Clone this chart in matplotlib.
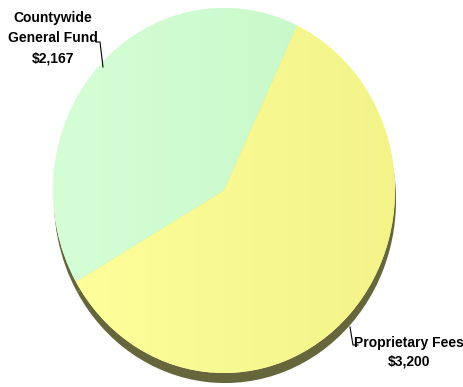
import matplotlib
matplotlib.use("Agg")
import matplotlib.pyplot as plt
import matplotlib.colors as mcolors
import numpy as np

# data
labels = [["Countywide", "General Fund"], ["Proprietary Fees"]]
values = [2167, 3200]
value_labels = ["$2,167", "$3,200"]

# face colours: lighter on the left, a bit deeper on the right
face_left = ["#d6fed6", "#ffff9c"]
face_right = ["#c4f7c6", "#f3f38a"]
rim_color = "#66663c"

W, H = 464, 387
fig = plt.figure(figsize=(W / 100, H / 100), dpi=100)
ax = fig.add_axes([0, 0, 1, 1])

# pie face in pixel space: centre (224, 190.5), rx 171, ry 182.5
cx, cy, rx, ry = 224, 190.5, 171, 182.5

font = ["Liberation Sans", "DejaVu Sans"]

# shadow / depth underneath
shadow, _ = ax.pie(values, colors=[rim_color, rim_color], startangle=64.7,
                   counterclock=True, radius=1.0, center=(0.006, -0.055),
                   wedgeprops=dict(linewidth=0), frame=True)
for w in shadow:
    w.set_zorder(1)

wedges, _ = ax.pie(values, colors=face_left, startangle=64.7,
                   counterclock=True, radius=1.0, center=(0, 0),
                   wedgeprops=dict(linewidth=0), frame=True)

# horizontal gradient clipped to each wedge
grad = np.linspace(0, 1, 256).reshape(1, -1)
for w, c0, c1 in zip(wedges, face_left, face_right):
    w.set_zorder(2)
    cmap = mcolors.LinearSegmentedColormap.from_list("g", [c0, c1])
    im = ax.imshow(grad, cmap=cmap, extent=(-1.0, 1.0, -1.0, 1.0),
                   aspect="auto", zorder=3, interpolation="bilinear")
    im.set_clip_path(w)

ax.set_xlim((0 - cx) / rx, (W - cx) / rx)
ax.set_ylim((cy - H) / ry, cy / ry)
ax.set_aspect("auto")
ax.axis("off")


def px(x, y):
    return x / W, 1 - y / H


def label(x, y, s):
    fig.text(*px(x, y), s, ha="center", va="center", fontsize=10,
             fontweight="bold", family=font)


# left label + leader
label(53, 18, labels[0][0])
label(52.5, 38.5, labels[0][1])
label(53.5, 58.5, value_labels[0])
fig.add_artist(plt.Line2D([96 / W, 100 / W, 103 / W],
                          [1 - 42 / H, 1 - 42 / H, 1 - 67 / H],
                          color="black", lw=0.8))

# right label + leader
label(409, 343, labels[1][0])
label(409, 362, value_labels[1])
fig.add_artist(plt.Line2D([350 / W, 353 / W, 358 / W],
                          [1 - 327 / H, 1 - 345 / H, 1 - 345 / H],
                          color="black", lw=0.8))

fig.savefig("out.png", dpi=100)
